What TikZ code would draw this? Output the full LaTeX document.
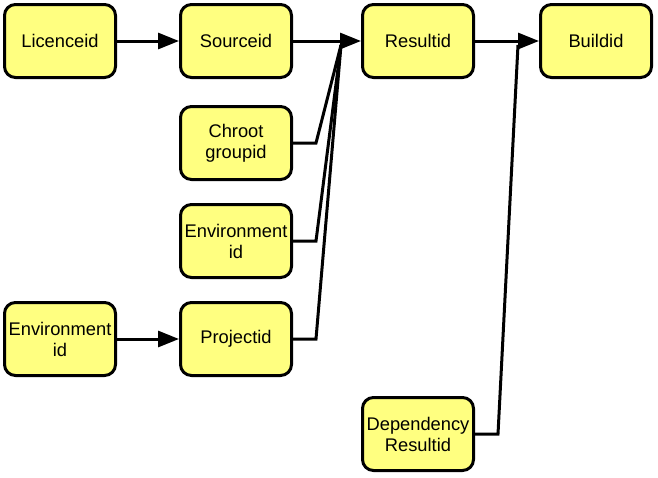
\documentclass[tikz,border=0pt]{standalone}
\usepackage{fontspec}
\setmainfont{Liberation Sans}
\usetikzlibrary{arrows.meta}
\definecolor{boxyellow}{RGB}{255,255,128}
\begin{document}
\begin{tikzpicture}[x=1pt,y=-1pt,
  box/.style={draw=black,line width=3pt,fill=boxyellow,rounded corners=11pt,
    minimum width=111pt,minimum height=73pt,inner sep=0pt,align=center,
    font=\fontsize{18.3}{21}\selectfont},
  conn/.style={line width=3pt,draw=black},
  arr/.style={conn,-{Triangle[length=21pt,width=16pt]}}]
\useasboundingbox (0,0) rectangle (658,477);
\node[box] (lic) at (60,41) {Licenceid};
\node[box] (src) at (236,41) {Sourceid};
\node[box] (res) at (418,41) {Resultid};
\node[box] (bld) at (596,41) {Buildid};
\node[box] (chr) at (236,143) {Chroot\\groupid};
\node[box] (env) at (236,241) {Environment\\id};
\node[box] (envl) at (60,339) {Environment\\id};
\node[box] (prj) at (236,339) {Projectid};
\node[box] (dep) at (418,434) {Dependency\\Resultid};
\coordinate (m1) at (341,45);
\coordinate (m2) at (518,45);
\draw[arr] (lic) -- (src);
\draw[arr] (envl) -- (prj);
\draw[arr] (src) -- (res);
\draw[arr] (res) -- (bld);
\draw[conn] (chr.east) -- ++(23,0) -- (m1);
\draw[conn] (env.east) -- ++(23,0) -- (m1);
\draw[conn] (prj.east) -- ++(23,0) -- (m1);
\draw[conn] (dep.east) -- ++(23,0) -- (m2);
\end{tikzpicture}
\end{document}
